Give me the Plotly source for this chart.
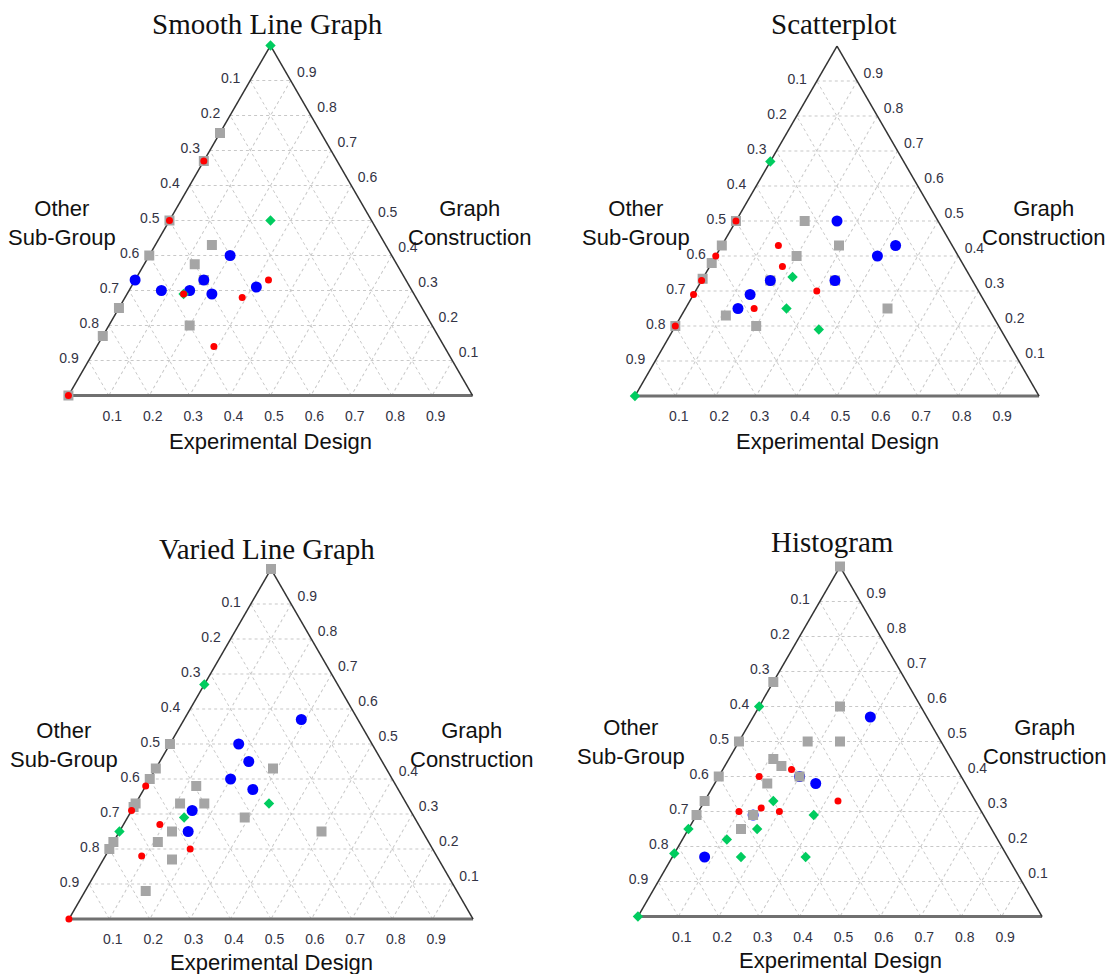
import plotly.graph_objects as go

# ---------------- data (ED = Experimental Design, GC = Graph Construction;
# Other Sub-Group = 1 - ED - GC) ----------------
PLOT_TITLES = ["Smooth Line Graph", "Scatterplot", "Varied Line Graph", "Histogram"]
TICK_VALUES = [0.1, 0.2, 0.3, 0.4, 0.5, 0.6, 0.7, 0.8, 0.9]
TICK_LABELS = ["0.9", "0.8", "0.7", "0.6", "0.5", "0.4", "0.3", "0.2", "0.1"]

# Smooth Line Graph
smooth_gray_ed = [0, 0, 0, 0, 0, 0, 0, 0.14, 0.125, 0.17, 0.2]
smooth_gray_gc = [0.75, 0.4, 0.25, 0.17, 0, 0.67, 0.5, 0.43, 0.375, 0.33, 0.2]
smooth_blue_ed = [0, 0.2, 0.17, 0.08, 0.15, 0.21, 0.31]
smooth_blue_gc = [0.33, 0.4, 0.33, 0.3, 0.3, 0.29, 0.31]
smooth_green_ed = [0, 0.25, 0.14]
smooth_green_gc = [1, 0.5, 0.29]
smooth_red_ed = [0, 0, 0, 0.14, 0.29, 0.33, 0.29]
smooth_red_gc = [0.67, 0.5, 0, 0.29, 0.28, 0.33, 0.14]

# Scatterplot
scatter_gray_ed = [0, 0, 0, 0, 0, 0.2, 0.17, 0.11, 0.2, 0.17, 0.29, 0.33, 0.5]
scatter_gray_gc = [0.5, 0.43, 0.38, 0.335, 0.2, 0.4, 0.33, 0.23, 0.2, 0.5, 0.43, 0.33, 0.25]
scatter_blue_ed = [0.17, 0.14, 0.13, 0.25, 0.43, 0.4, 0.33]
scatter_blue_gc = [0.33, 0.29, 0.25, 0.5, 0.43, 0.4, 0.33]
scatter_green_ed = [0, 0, 0.22, 0.25, 0.36]
scatter_green_gc = [0.67, 0, 0.34, 0.25, 0.19]
scatter_red_ed = [0, 0, 0, 0, 0, 0.14, 0.18, 0.17, 0.3]
scatter_red_gc = [0.5, 0.4, 0.33, 0.29, 0.2, 0.43, 0.37, 0.25, 0.3]

# Varied Line Graph
varied_gray_ed = [0, 0, 0, 0, 0, 0, 0, 0, 0.125, 0.11, 0.17, 0.13, 0.11, 0.17, 0.15, 0.29, 0.29, 0.5]
varied_gray_gc = [1, 0.5, 0.43, 0.4, 0.33, 0.32, 0.22, 0.2, 0.38, 0.33, 0.33, 0.25, 0.22, 0.17, 0.08, 0.43, 0.29, 0.25]
varied_blue_ed = [0.29, 0.17, 0.22, 0.2, 0.27, 0.15, 0.17]
varied_blue_gc = [0.57, 0.5, 0.45, 0.4, 0.37, 0.31, 0.25]
varied_green_ed = [0, 0, 0.14, 0.33]
varied_green_gc = [0.67, 0.25, 0.29, 0.33]
varied_red_ed = [0.33, 0, 0, 0, 0.09, 0.2, 0.09]
varied_red_gc = [0.67, 0.38, 0.31, 0, 0.27, 0.2, 0.18]

# Histogram
hist_blue_ed = [0.08, 0.14, 0.2, 0.29, 0.25]
hist_blue_gc = [0.17, 0.29, 0.4, 0.57, 0.38]
hist_gray_ed = [0, 0, 0, 0, 0, 0, 0.11, 0.14, 0.13, 0.14, 0.13, 0.2, 0.17, 0.25, 0.2]
hist_gray_gc = [1, 0.67, 0.5, 0.4, 0.33, 0.29, 0.45, 0.43, 0.38, 0.29, 0.25, 0.6, 0.5, 0.5, 0.4]
hist_green_ed = [0, 0, 0, 0, 0.17, 0.17, 0.11, 0.17, 0.29, 0.33, 0.33]
hist_green_gc = [0.6, 0.25, 0.18, 0, 0.33, 0.25, 0.22, 0.17, 0.29, 0.17, 0.67]
hist_red_ed = [0.1, 0.1, 0.15, 0.2, 0.17, 0.33]
hist_red_gc = [0.4, 0.3, 0.31, 0.3, 0.42, 0.33]

# ---------------- styles ----------------
STYLE = {
    "gray": dict(color="#a5a5a5", size=10, symbol="square"),
    "blue": dict(color="#0000ff", size=11, symbol="circle"),
    "green": dict(color="#00cc5f", size=8, symbol="diamond"),
    "red": dict(color="#ff0000", size=7, symbol="circle"),
}

PLOTS = [
    [("gray", smooth_gray_ed, smooth_gray_gc), ("blue", smooth_blue_ed, smooth_blue_gc),
     ("green", smooth_green_ed, smooth_green_gc), ("red", smooth_red_ed, smooth_red_gc)],
    [("gray", scatter_gray_ed, scatter_gray_gc), ("blue", scatter_blue_ed, scatter_blue_gc),
     ("green", scatter_green_ed, scatter_green_gc), ("red", scatter_red_ed, scatter_red_gc)],
    [("gray", varied_gray_ed, varied_gray_gc), ("blue", varied_blue_ed, varied_blue_gc),
     ("green", varied_green_ed, varied_green_gc), ("red", varied_red_ed, varied_red_gc)],
    [("blue", hist_blue_ed, hist_blue_gc), ("gray", hist_gray_ed, hist_gray_gc),
     ("green", hist_green_ed, hist_green_gc), ("red", hist_red_ed, hist_red_gc)],
]

W, H = 1108, 974


def px(x):
    return x / W


def py(y):
    return 1 - y / H


# triangle centres (pixels) and half-size
CENTERS = [(270.5, 220.5), (837, 221), (271, 744), (840, 741.5)]
HALF_W, HALF_H = 210, 175

fig = go.Figure()

for i, series in enumerate(PLOTS):
    tname = "ternary" if i == 0 else f"ternary{i + 1}"
    for color, ed, gc in series:
        st = STYLE[color]
        fig.add_trace(go.Scatterternary(
            a=gc, c=ed, mode="markers", subplot=tname, showlegend=False,
            hoverinfo="skip", cliponaxis=False,
            marker=dict(color=st["color"], size=st["size"], symbol=st["symbol"],
                        line=dict(width=0)),
        ))

AX_COMMON = dict(
    tickmode="array", tickvals=TICK_VALUES, ticktext=TICK_LABELS,
    tickfont=dict(family="Liberation Sans, Arial", size=14, color="#333344"),
    showgrid=True, gridcolor="#c8c8c8", gridwidth=1, griddash="dot",
    ticks="outside", ticklen=7, tickcolor="rgba(0,0,0,0)",
    min=0, title=dict(text=""), layer="below traces",
)

layout_updates = {}
for i, (cx, cy) in enumerate(CENTERS):
    tname = "ternary" if i == 0 else f"ternary{i + 1}"
    layout_updates[tname] = dict(
        domain=dict(x=[px(cx - HALF_W), px(cx + HALF_W)],
                    y=[py(cy + HALF_H), py(cy - HALF_H)]),
        sum=1, bgcolor="white",
        aaxis=dict(AX_COMMON, linecolor="#333333", linewidth=1.5),
        baxis=dict(AX_COMMON, linecolor="#707070", linewidth=3),
        caxis=dict(AX_COMMON, linecolor="#333333", linewidth=1.5),
    )

annotations = []
TITLE_POS = [(267, 24), (834, 24), (267, 549), (832, 542)]
for (x, y), t in zip(TITLE_POS, PLOT_TITLES):
    annotations.append(dict(x=px(x), y=py(y), xref="paper", yref="paper", text=t,
                            showarrow=False, xanchor="center", yanchor="middle",
                            font=dict(family="Liberation Serif, Times New Roman", size=29,
                                      color="#111111")))

AXIS_FONT = dict(family="Liberation Sans, Arial", size=22, color="#111111")
OTHER_POS = [(62, 223), (636, 223), (64, 745), (631, 742)]
GRAPH_POS = [(470, 223), (1044, 223), (472, 745), (1045, 742)]
EXP_POS = [(270, 441), (837, 441), (271, 962), (840, 960)]
for (x, y) in OTHER_POS:
    annotations.append(dict(x=px(x), y=py(y), xref="paper", yref="paper",
                            text="Other<br>Sub-Group", showarrow=False,
                            xanchor="center", yanchor="middle", font=AXIS_FONT))
for (x, y) in GRAPH_POS:
    annotations.append(dict(x=px(x), y=py(y), xref="paper", yref="paper",
                            text="Graph<br>Construction", showarrow=False,
                            xanchor="center", yanchor="middle", font=AXIS_FONT))
for (x, y) in EXP_POS:
    annotations.append(dict(x=px(x), y=py(y), xref="paper", yref="paper",
                            text="Experimental Design", showarrow=False,
                            xanchor="center", yanchor="middle", font=AXIS_FONT))

fig.update_layout(
    width=W, height=H,
    margin=dict(l=0, r=0, t=0, b=0),
    paper_bgcolor="white", plot_bgcolor="white",
    annotations=annotations,
    showlegend=False,
    dragmode=False,
)

fig.update_layout(**layout_updates)

fig.write_html(
    "out.html",
    config={"displayModeBar": False, "staticPlot": True},
    post_script="document.body.style.margin='0';document.body.style.overflow='hidden';",
)
